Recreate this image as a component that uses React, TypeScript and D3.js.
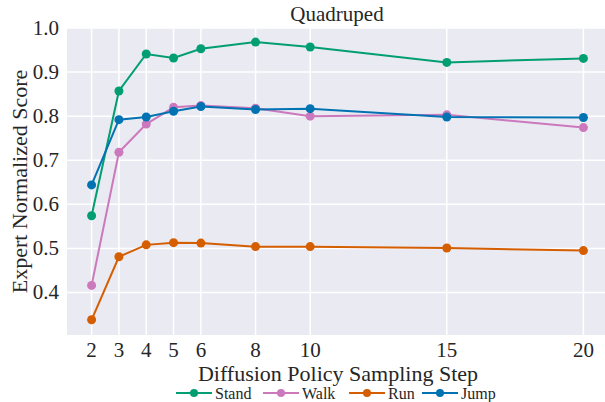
import React from "react";
import * as d3 from "d3";

const steps = [2, 3, 4, 5, 6, 8, 10, 15, 20];
const stand = [0.574, 0.857, 0.941, 0.932, 0.953, 0.968, 0.957, 0.922, 0.931];
const walk = [0.416, 0.718, 0.782, 0.82, 0.824, 0.818, 0.8, 0.803, 0.774];
const run = [0.338, 0.481, 0.508, 0.513, 0.512, 0.504, 0.504, 0.501, 0.495];
const jump = [0.644, 0.792, 0.798, 0.811, 0.822, 0.815, 0.817, 0.798, 0.797];
const yTicks = [0.4, 0.5, 0.6, 0.7, 0.8, 0.9, 1.0];

const series = [
  { name: "Stand", values: stand, color: "#029e73" },
  { name: "Walk", values: walk, color: "#cc78bc" },
  { name: "Run", values: run, color: "#d55e00" },
  { name: "Jump", values: jump, color: "#0173b2" },
];

const W = 605;
const H = 402;
const margin = { top: 28, right: -3, bottom: 67, left: 67 };
const font = '"Liberation Serif", "Times New Roman", Times, serif';

export default function App() {
  const x = d3.scaleLinear().domain([1.1, 20.9]).range([margin.left, W - margin.right]);
  const y = d3.scaleLinear().domain([0.3035, 1.0]).range([H - margin.bottom, margin.top]);
  const line = d3
    .line<number>()
    .x((_, i) => x(steps[i]))
    .y((d) => y(d));

  const legendX = [176, 263, 349, 422];
  const txt = { fontFamily: font, fill: "#262626" };

  return (
    <svg
      width={W}
      height={H}
      style={{ position: "absolute", left: 0, top: 0, background: "#fff", fontFamily: font }}
    >
      <rect
        x={margin.left}
        y={margin.top}
        width={W - margin.right - margin.left}
        height={H - margin.bottom - margin.top}
        fill="#eaeaf2"
      />
      {/* grid */}
      {steps.map((s) => (
        <line key={"gx" + s} x1={x(s)} x2={x(s)} y1={margin.top} y2={H - margin.bottom} stroke="#fff" strokeWidth={1.5} />
      ))}
      {yTicks.map((t) => (
        <line key={"gy" + t} x1={margin.left} x2={W} y1={y(t)} y2={y(t)} stroke="#fff" strokeWidth={1.5} />
      ))}
      {/* tick labels */}
      {steps.map((s) => (
        <text key={"tx" + s} x={x(s)} y={357} textAnchor="middle" fontSize={21} style={txt}>
          {s}
        </text>
      ))}
      {yTicks.map((t) => (
        <text key={"ty" + t} x={59} y={y(t) + 7} textAnchor="end" fontSize={21} style={txt}>
          {t.toFixed(1)}
        </text>
      ))}
      {/* series */}
      {series.map((s) => (
        <g key={s.name}>
          <path d={line(s.values) || ""} fill="none" stroke={s.color} strokeWidth={2} />
          {s.values.map((v, i) => (
            <circle key={i} cx={x(steps[i])} cy={y(v)} r={4.5} fill={s.color} />
          ))}
        </g>
      ))}
      {/* titles */}
      <text x={337} y={21} textAnchor="middle" fontSize={21} style={txt}>
        Quadruped
      </text>
      <text x={338} y={381} textAnchor="middle" fontSize={22} style={txt}>
        Diffusion Policy Sampling Step
      </text>
      <text
        transform={`translate(27,${(margin.top + H - margin.bottom) / 2}) rotate(-90)`}
        textAnchor="middle"
        fontSize={22}
        style={txt}
      >
        Expert Normalized Score
      </text>
      {/* legend */}
      {series.map((s, i) => (
        <g key={"lg" + s.name} transform={`translate(${legendX[i]},393)`}>
          <line x1={0} x2={36} y1={0} y2={0} stroke={s.color} strokeWidth={2} />
          <circle cx={18} cy={0} r={4} fill={s.color} />
          <text x={39} y={5.5} fontSize={16} style={txt}>
            {s.name}
          </text>
        </g>
      ))}
    </svg>
  );
}
